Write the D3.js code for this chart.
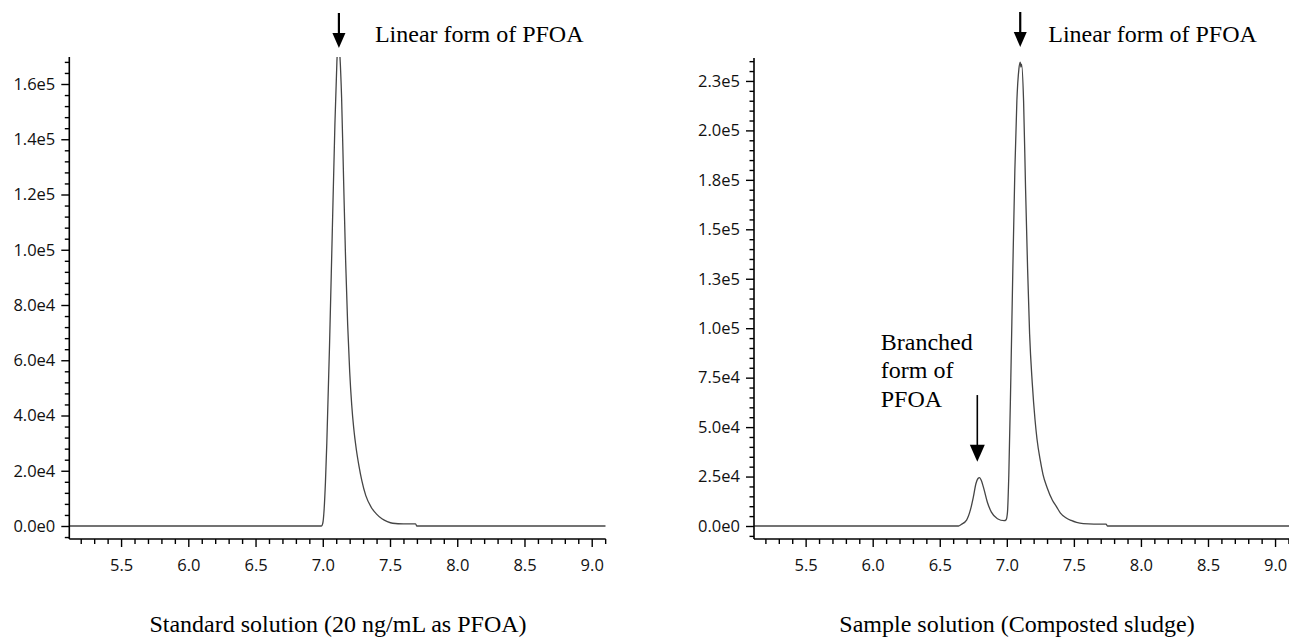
<!DOCTYPE html>
<html>
<head>
<meta charset="utf-8">
<script src="https://cdn.jsdelivr.net/npm/d3@7"></script>
<style>
  html, body { margin: 0; padding: 0; background: #fff; }
  svg { display: block; }
</style>
</head>
<body>
<svg id="chart" width="1289" height="642"></svg>
<script>
// ---------------- DATA ----------------
// Standard solution (20 ng/mL as PFOA): retention time (min) and intensity
const stdTime = [5.115, 6.99, 7.00, 7.01, 7.02, 7.03, 7.05, 7.07, 7.09, 7.105, 7.115, 7.125, 7.14, 7.155, 7.17, 7.185, 7.20, 7.215, 7.23, 7.25, 7.27, 7.29, 7.32, 7.36, 7.40, 7.44, 7.48, 7.52, 7.60, 7.69, 7.70, 9.104];
const stdIntensity = [0, 0, 1000, 6000, 16000, 30000, 65000, 105000, 145000, 168000, 176000, 172000, 155000, 125000, 96000, 73000, 56000, 44000, 35500, 27500, 21500, 16500, 11000, 6800, 4300, 2600, 1600, 1000, 800, 800, 0, 0];

// Sample solution (Composted sludge)
const smpTime = [5.117, 6.64, 6.66, 6.70, 6.73, 6.75, 6.77, 6.785, 6.797, 6.81, 6.83, 6.855, 6.885, 6.93, 6.98, 6.995, 7.005, 7.015, 7.03, 7.045, 7.06, 7.075, 7.09, 7.10, 7.105, 7.11, 7.125, 7.14, 7.155, 7.17, 7.19, 7.21, 7.225, 7.25, 7.27, 7.30, 7.34, 7.37, 7.40, 7.44, 7.48, 7.52, 7.57, 7.65, 7.74, 7.75, 9.104];
const smpIntensity = [0, 0, 800, 3000, 8500, 14500, 21500, 24000, 24500, 23000, 18500, 12000, 7000, 3700, 2700, 3200, 7000, 26000, 75000, 130000, 180000, 215000, 231000, 234500, 232000, 233500, 215000, 170000, 130000, 97000, 72000, 54000, 44000, 33000, 26000, 19500, 13000, 9800, 6500, 4200, 2800, 1800, 1200, 1000, 1000, 0, 0];

// Axis ticks
const xTicks = [5.5, 6.0, 6.5, 7.0, 7.5, 8.0, 8.5, 9.0];
const xTickLabels = ["5.5", "6.0", "6.5", "7.0", "7.5", "8.0", "8.5", "9.0"];
const stdYTicks = [0, 20000, 40000, 60000, 80000, 100000, 120000, 140000, 160000];
const stdYTickLabels = ["0.0e0", "2.0e4", "4.0e4", "6.0e4", "8.0e4", "1.0e5", "1.2e5", "1.4e5", "1.6e5"];
const smpYTicks = [0, 25000, 50000, 75000, 100000, 125000, 150000, 175000, 200000, 225000];
const smpYTickLabels = ["0.0e0", "2.5e4", "5.0e4", "7.5e4", "1.0e5", "1.3e5", "1.5e5", "1.8e5", "2.0e5", "2.3e5"];

// Titles and annotations
const titles = ["Standard solution (20 ng/mL as PFOA)", "Sample solution (Composted sludge)"];
const linearLabel = "Linear form of PFOA";
const branchedLabel = ["Branched", "form of", "PFOA"];
const stdLinearRT = 7.12;
const smpLinearRT = 7.10;
const smpBranchedRT = 6.78;

// ---------------- DRAW ----------------
const svg = d3.select("#chart");
const tickFont = "'Open Sans', 'Noto Sans', sans-serif";
const serif = "'Liberation Serif', 'Times New Roman', serif";

function panel(opts) {
  const { id, xRange, yDomain, yRange, time, inten, yTicks, yLabels, yMinorStep, title, titleX } = opts;
  const x = d3.scaleLinear().domain([5.115, 9.104]).range(xRange);
  const y = d3.scaleLinear().domain(yDomain).range(yRange);
  const g = svg.append("g");

  g.append("clipPath").attr("id", "clip-" + id)
    .append("rect")
    .attr("x", xRange[0]).attr("y", yRange[1])
    .attr("width", xRange[1] - xRange[0]).attr("height", yRange[0] - yRange[1]);

  // trace
  const line = d3.line().x((d, i) => x(time[i])).y(d => y(d)).curve(d3.curveMonotoneX);
  g.append("path")
    .attr("clip-path", `url(#clip-${id})`)
    .attr("d", line(inten))
    .attr("fill", "none")
    .attr("stroke", "#454545")
    .attr("stroke-width", 1.3)
    .attr("stroke-linejoin", "round");

  // minor y ticks
  const minor = d3.range(Math.ceil(yDomain[0] / yMinorStep) * yMinorStep, yDomain[1], yMinorStep)
    .filter(v => Math.abs(v % (yMinorStep * 5)) > 1e-6);
  g.append("g")
    .attr("transform", `translate(${xRange[0]},0)`)
    .call(d3.axisLeft(y).tickValues(minor).tickSize(4.5).tickFormat(""))
    .call(a => a.select(".domain").remove())
    .selectAll("line").attr("stroke", "#000").attr("stroke-width", 1.4);

  // major y ticks
  const yAx = g.append("g")
    .attr("transform", `translate(${xRange[0]},0)`)
    .call(d3.axisLeft(y).tickValues(yTicks).tickSize(8).tickPadding(6)
      .tickFormat((d, i) => yLabels[i]));
  yAx.select(".domain").attr("stroke", "#000").attr("stroke-width", 1.6)
    .attr("d", `M0,${yRange[0]}V${yRange[1]}`);
  yAx.selectAll("line").attr("stroke", "#000").attr("stroke-width", 1.4);
  yAx.selectAll("text").attr("font-family", tickFont).attr("font-size", 16.5).attr("fill", "#111");

  // minor x ticks
  const xMinor = d3.range(5.2, 9.11, 0.1).map(v => Math.round(v * 10) / 10)
    .filter(v => Math.abs(v * 2 - Math.round(v * 2)) > 1e-6);
  g.append("g")
    .attr("transform", `translate(0,${yRange[0]})`)
    .call(d3.axisBottom(x).tickValues(xMinor).tickSize(5).tickFormat(""))
    .call(a => a.select(".domain").remove())
    .selectAll("line").attr("stroke", "#000").attr("stroke-width", 1.4);

  // major x ticks
  const xAx = g.append("g")
    .attr("transform", `translate(0,${yRange[0]})`)
    .call(d3.axisBottom(x).tickValues(xTicks).tickSize(8).tickPadding(12)
      .tickFormat((d, i) => xTickLabels[i]));
  xAx.select(".domain").attr("stroke", "#000").attr("stroke-width", 1.6)
    .attr("d", `M${xRange[0]},0H${xRange[1]}`);
  xAx.selectAll("line").attr("stroke", "#000").attr("stroke-width", 1.4);
  xAx.selectAll("text").attr("font-family", tickFont).attr("font-size", 16.5).attr("fill", "#111");

  // title
  svg.append("text")
    .attr("x", titleX).attr("y", 632)
    .attr("text-anchor", "middle")
    .attr("font-family", serif).attr("font-size", 24).attr("fill", "#000")
    .text(title);

  return { x, y };
}

function arrow(xp, y1, y2, shaft, headW, headH) {
  svg.append("line")
    .attr("x1", xp).attr("x2", xp).attr("y1", y1).attr("y2", y2 - headH + 1)
    .attr("stroke", "#000").attr("stroke-width", shaft);
  svg.append("path")
    .attr("d", `M${xp - headW / 2},${y2 - headH}L${xp + headW / 2},${y2 - headH}L${xp},${y2}Z`)
    .attr("fill", "#000");
}

const L = panel({
  id: "std", xRange: [69.3, 605.7], yDomain: [-4706, 169774], yRange: [539, 57],
  time: stdTime, inten: stdIntensity, yTicks: stdYTicks, yLabels: stdYTickLabels,
  yMinorStep: 4000, title: titles[0], titleX: 338
});
const R = panel({
  id: "smp", xRange: [754, 1289], yDomain: [-6570, 236600], yRange: [539, 58],
  time: smpTime, inten: smpIntensity, yTicks: smpYTicks, yLabels: smpYTickLabels,
  yMinorStep: 5000, title: titles[1], titleX: 1017
});

// top "Linear form" annotations
const lx = L.x(stdLinearRT);
arrow(lx, 13, 48, 2.2, 13, 15);
svg.append("text").attr("x", lx + 36).attr("y", 42)
  .attr("font-family", serif).attr("font-size", 24).attr("fill", "#000").text(linearLabel);

const rx = R.x(smpLinearRT);
arrow(rx, 12, 47, 2.2, 13, 15);
svg.append("text").attr("x", rx + 28).attr("y", 42)
  .attr("font-family", serif).attr("font-size", 24).attr("fill", "#000").text(linearLabel);

// branched annotation
const bx = R.x(smpBranchedRT);
arrow(bx, R.y(66200), R.y(32500), 1.6, 15, 17);
const bt = svg.append("text").attr("font-family", serif).attr("font-size", 24).attr("fill", "#000");
branchedLabel.forEach((s, i) => {
  bt.append("tspan").attr("x", R.x(6.06)).attr("y", 350 + i * 28.3).text(s);
});
</script>
</body>
</html>
